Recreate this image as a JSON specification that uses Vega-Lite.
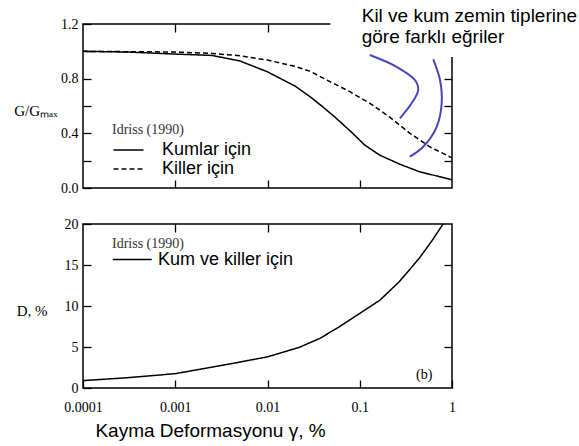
{
  "$schema": "https://vega.github.io/schema/vega-lite/v6.json",
  "background": "white",
  "padding": {"left": 12, "top": 6, "right": 5, "bottom": 5},
  "spacing": 20,
  "config": {
    "view": {"stroke": "black", "strokeWidth": 1.5},
    "axis": {
      "domain": false, "grid": false, "tickColor": "black", "tickWidth": 1.3, "tickSize": -8,
      "labelFont": "Liberation Serif", "labelFontSize": 14, "labelColor": "black",
      "titleFont": "Liberation Serif", "titleFontSize": 15, "titleFontWeight": "normal", "titleColor": "black",
      "labelFlush": false
    },
    "axisLeft": {"labelPadding": 13},
    "axisBottom": {"labelPadding": 20},
    "legend": {
      "titleFont": "Liberation Serif", "titleFontSize": 14, "titleFontWeight": "normal", "titleColor": "#333333",
      "labelFont": "Liberation Sans", "labelFontSize": 18, "labelColor": "black",
      "symbolType": "M-1,0H3", "symbolStrokeColor": "black", "symbolStrokeWidth": 1.5, "symbolFillColor": "transparent"
    }
  },
  "resolve": {"scale": {"strokeDash": "independent", "y": "independent"}, "legend": {"strokeDash": "independent"}},
  "vconcat": [
    {
      "width": 369, "height": 164,
      "resolve": {"axis": {"x": "independent", "y": "independent"}},
      "layer": [
        {
          "data": {"values": [{"x1": 0.048, "x2": 1.12, "y1": 0.958, "y2": 1.23}]},
          "mark": {"type": "rect", "fill": "white"},
          "encoding": {
            "x": {"field": "x1", "type": "quantitative", "scale": {"type": "log", "domain": [0.0001, 1]},
                  "axis": {"orient": "top", "values": [0.001, 0.01, 0.1], "labels": false, "title": null}},
            "x2": {"field": "x2"},
            "y": {"field": "y1", "type": "quantitative", "scale": {"domain": [0, 1.2], "nice": false, "zero": false},
                  "axis": {"orient": "right", "values": [0.2, 0.4, 0.6, 0.8, 1.0], "labels": false, "title": null}},
            "y2": {"field": "y2"}
          }
        },
        {
          "data": {"values": [
            {"gamma": 0.0001, "G": 1.0, "soil": "Kumlar için"},
            {"gamma": 0.0003, "G": 0.995, "soil": "Kumlar için"},
            {"gamma": 0.001, "G": 0.98, "soil": "Kumlar için"},
            {"gamma": 0.0025, "G": 0.97, "soil": "Kumlar için"},
            {"gamma": 0.005, "G": 0.93, "soil": "Kumlar için"},
            {"gamma": 0.01, "G": 0.85, "soil": "Kumlar için"},
            {"gamma": 0.02, "G": 0.745, "soil": "Kumlar için"},
            {"gamma": 0.03, "G": 0.66, "soil": "Kumlar için"},
            {"gamma": 0.04, "G": 0.592, "soil": "Kumlar için"},
            {"gamma": 0.0535, "G": 0.52, "soil": "Kumlar için"},
            {"gamma": 0.078, "G": 0.42, "soil": "Kumlar için"},
            {"gamma": 0.113, "G": 0.315, "soil": "Kumlar için"},
            {"gamma": 0.165, "G": 0.24, "soil": "Kumlar için"},
            {"gamma": 0.27, "G": 0.175, "soil": "Kumlar için"},
            {"gamma": 0.44, "G": 0.12, "soil": "Kumlar için"},
            {"gamma": 0.73, "G": 0.083, "soil": "Kumlar için"},
            {"gamma": 1.0, "G": 0.06, "soil": "Kumlar için"},
            {"gamma": 0.0001, "G": 1.0, "soil": "Killer için"},
            {"gamma": 0.001, "G": 0.995, "soil": "Killer için"},
            {"gamma": 0.0025, "G": 0.985, "soil": "Killer için"},
            {"gamma": 0.005, "G": 0.968, "soil": "Killer için"},
            {"gamma": 0.01, "G": 0.936, "soil": "Killer için"},
            {"gamma": 0.02, "G": 0.89, "soil": "Killer için"},
            {"gamma": 0.0287, "G": 0.855, "soil": "Killer için"},
            {"gamma": 0.047, "G": 0.78, "soil": "Killer için"},
            {"gamma": 0.078, "G": 0.705, "soil": "Killer için"},
            {"gamma": 0.129, "G": 0.62, "soil": "Killer için"},
            {"gamma": 0.21, "G": 0.52, "soil": "Killer için"},
            {"gamma": 0.35, "G": 0.40, "soil": "Killer için"},
            {"gamma": 0.58, "G": 0.30, "soil": "Killer için"},
            {"gamma": 1.0, "G": 0.22, "soil": "Killer için"}
          ]},
          "mark": {"type": "line", "color": "black", "strokeWidth": 1.5},
          "encoding": {
            "x": {"field": "gamma", "type": "quantitative", "scale": {"type": "log", "domain": [0.0001, 1]},
                  "axis": {"orient": "bottom", "values": [0.001, 0.01, 0.1], "labels": false, "title": null}},
            "y": {"field": "G", "type": "quantitative", "scale": {"domain": [0, 1.2], "nice": false, "zero": false},
                  "axis": {"orient": "left", "values": [0, 0.2, 0.4, 0.6, 0.8, 1.0, 1.2],
                           "labelExpr": "round(datum.value*10) % 4 == 0 ? format(datum.value, '.1f') : ''",
                           "title": "G/Gₘₐₓ", "titleAngle": 0, "titleX": -26, "titleY": 86,
                           "titleAlign": "right", "titleBaseline": "middle"}},
            "strokeDash": {"field": "soil", "type": "nominal",
                           "scale": {"domain": ["Kumlar için", "Killer için"], "range": [[1, 0], [5, 3]]},
                           "legend": {"orient": "none", "legendX": 29, "legendY": 99, "title": "Idriss (1990)",
                                      "symbolSize": 225, "labelOffset": 32, "rowPadding": 1, "titlePadding": 4}}
          }
        },
        {
          "data": {"values": [
            {"id": "a", "ord": 1, "gamma": 0.1285, "G": 0.973},
            {"id": "a", "ord": 2, "gamma": 0.2506, "G": 0.887},
            {"id": "a", "ord": 3, "gamma": 0.3963, "G": 0.79},
            {"id": "a", "ord": 4, "gamma": 0.4305, "G": 0.717},
            {"id": "a", "ord": 5, "gamma": 0.3648, "G": 0.62},
            {"id": "a", "ord": 6, "gamma": 0.2723, "G": 0.51},
            {"id": "b", "ord": 1, "gamma": 0.6266, "G": 0.941},
            {"id": "b", "ord": 2, "gamma": 0.7413, "G": 0.79},
            {"id": "b", "ord": 3, "gamma": 0.7727, "G": 0.62},
            {"id": "b", "ord": 4, "gamma": 0.6823, "G": 0.448},
            {"id": "b", "ord": 5, "gamma": 0.4875, "G": 0.302},
            {"id": "b", "ord": 6, "gamma": 0.3491, "G": 0.229}
          ]},
          "mark": {"type": "line", "color": "#4646bb", "strokeWidth": 2, "interpolate": "catmull-rom"},
          "encoding": {
            "x": {"field": "gamma", "type": "quantitative", "axis": null},
            "y": {"field": "G", "type": "quantitative", "axis": null},
            "detail": {"field": "id"},
            "order": {"field": "ord"}
          }
        },
        {
          "data": {"values": [
            {"t": "Kil ve kum zemin tiplerine", "gamma": 0.105, "G": 1.214},
            {"t": "göre farklı eğriler", "gamma": 0.105, "G": 1.061}
          ]},
          "mark": {"type": "text", "align": "left", "baseline": "alphabetic", "font": "Liberation Sans", "fontSize": 19, "color": "black"},
          "encoding": {
            "x": {"field": "gamma", "type": "quantitative", "axis": null},
            "y": {"field": "G", "type": "quantitative", "axis": null},
            "text": {"field": "t"}
          }
        }
      ]
    },
    {
      "width": 369, "height": 164,
      "resolve": {"axis": {"x": "independent", "y": "independent"}},
      "layer": [
        {
          "data": {"values": [{"t": "(b)", "gamma": 0.5, "D": 1.6}]},
          "mark": {"type": "text", "font": "Liberation Serif", "fontSize": 14, "color": "black", "baseline": "middle"},
          "encoding": {
            "x": {"field": "gamma", "type": "quantitative", "scale": {"type": "log", "domain": [0.0001, 1]},
                  "axis": {"orient": "top", "values": [0.001, 0.01, 0.1], "labels": false, "title": null}},
            "y": {"field": "D", "type": "quantitative", "scale": {"domain": [0, 20], "nice": false},
                  "axis": {"orient": "right", "values": [5, 10, 15], "labels": false, "title": null}},
            "text": {"field": "t"}
          }
        },
        {
          "data": {"values": [
            {"gamma": 0.0001, "D": 0.9, "lbl": "Kum ve killer için"},
            {"gamma": 0.0003, "D": 1.25, "lbl": "Kum ve killer için"},
            {"gamma": 0.001, "D": 1.75, "lbl": "Kum ve killer için"},
            {"gamma": 0.002, "D": 2.35, "lbl": "Kum ve killer için"},
            {"gamma": 0.0042, "D": 3.0, "lbl": "Kum ve killer için"},
            {"gamma": 0.01, "D": 3.8, "lbl": "Kum ve killer için"},
            {"gamma": 0.022, "D": 4.95, "lbl": "Kum ve killer için"},
            {"gamma": 0.037, "D": 6.05, "lbl": "Kum ve killer için"},
            {"gamma": 0.0607, "D": 7.5, "lbl": "Kum ve killer için"},
            {"gamma": 0.1, "D": 9.1, "lbl": "Kum ve killer için"},
            {"gamma": 0.165, "D": 10.7, "lbl": "Kum ve killer için"},
            {"gamma": 0.27, "D": 13.0, "lbl": "Kum ve killer için"},
            {"gamma": 0.44, "D": 15.8, "lbl": "Kum ve killer için"},
            {"gamma": 0.61, "D": 18.0, "lbl": "Kum ve killer için"},
            {"gamma": 0.8, "D": 20.0, "lbl": "Kum ve killer için"}
          ]},
          "mark": {"type": "line", "color": "black", "strokeWidth": 1.5},
          "encoding": {
            "x": {"field": "gamma", "type": "quantitative", "scale": {"type": "log", "domain": [0.0001, 1]},
                  "axis": {"orient": "bottom", "values": [0.0001, 0.001, 0.01, 0.1, 1], "format": "~g",
                           "title": "Kayma Deformasyonu γ, %", "titleFont": "Liberation Sans", "titleFontSize": 19,
                           "titleX": 127, "titleY": 48, "titleAlign": "center", "titleBaseline": "alphabetic"}},
            "y": {"field": "D", "type": "quantitative", "scale": {"domain": [0, 20], "nice": false},
                  "axis": {"orient": "left", "values": [0, 5, 10, 15, 20], "title": "D, %", "titleAngle": 0,
                           "titleX": -36, "titleY": 86, "titleAlign": "right", "titleBaseline": "middle"}},
            "strokeDash": {"field": "lbl", "type": "nominal",
                           "scale": {"domain": ["Kum ve killer için"], "range": [[1, 0]]},
                           "legend": {"orient": "none", "legendX": 29, "legendY": 13, "title": "Idriss (1990)",
                                      "symbolSize": 380, "labelOffset": 25, "titlePadding": -2}}
          }
        }
      ]
    }
  ]
}
